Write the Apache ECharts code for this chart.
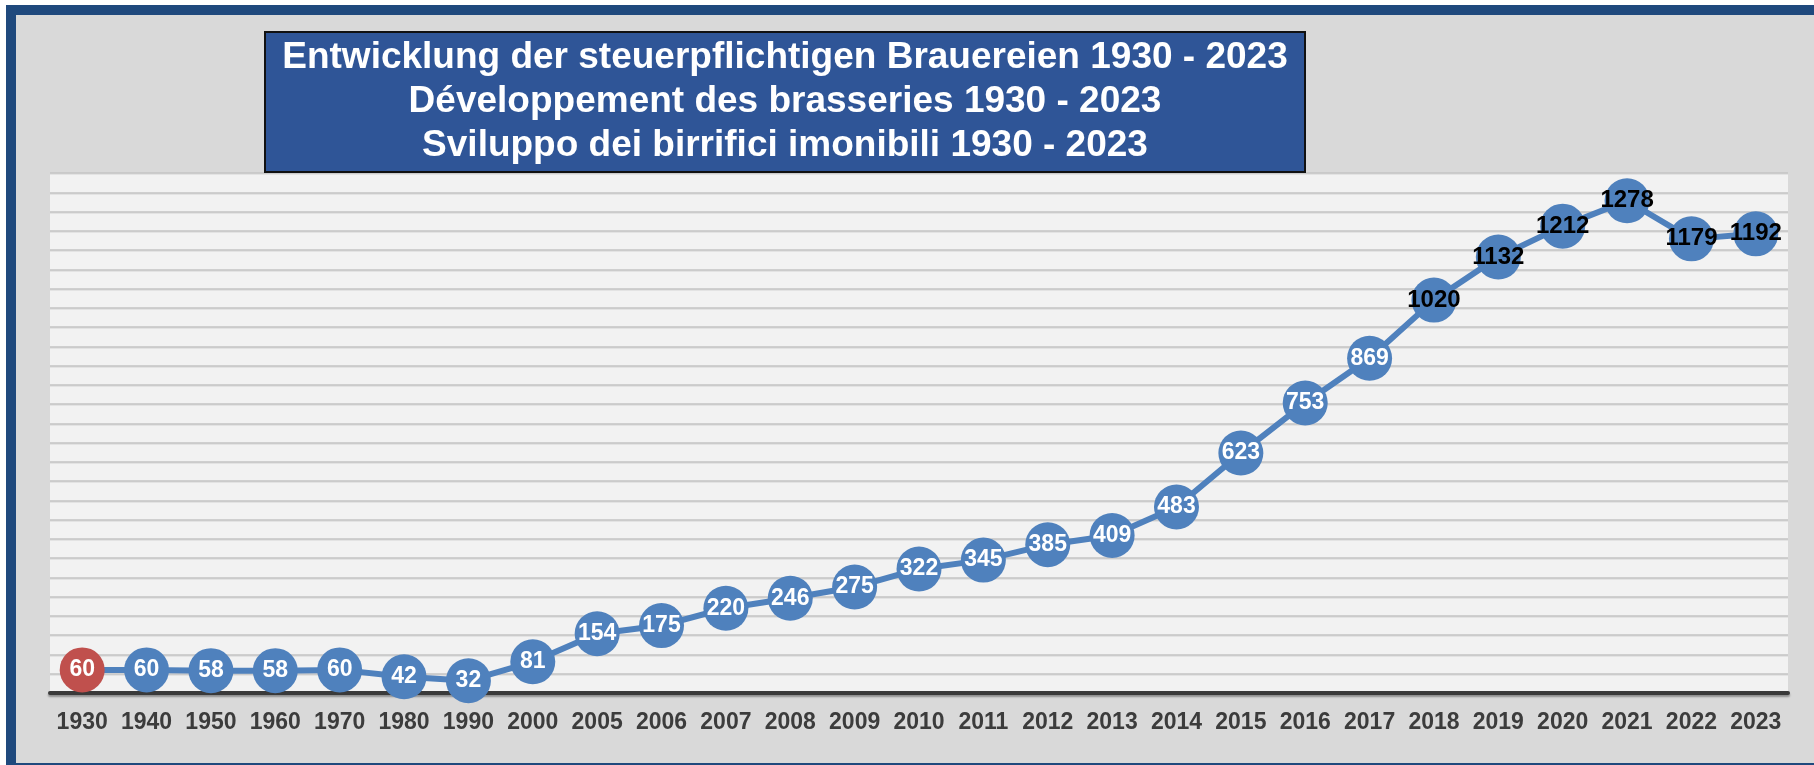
<!DOCTYPE html>
<html>
<head>
<meta charset="utf-8">
<title>Brauereien 1930 - 2023</title>
<script src="https://cdn.jsdelivr.net/npm/echarts@6/dist/echarts.min.js"></script>
<style>
    html, body { margin: 0; padding: 0; background: #ffffff; }
    #Line { width: 1814px; height: 765px; }
</style>
</head>
<body>
<div id="Line"></div>
<script>
// Jahre / années / anni
var years = ['1930', '1940', '1950', '1960', '1970', '1980', '1990', '2000',
    '2005', '2006', '2007', '2008', '2009', '2010', '2011', '2012', '2013',
    '2014', '2015', '2016', '2017', '2018', '2019', '2020', '2021', '2022', '2023'];
// Anzahl steuerpflichtige Brauereien
var breweries = [60, 60, 58, 58, 60, 42, 32, 81,
    154, 175, 220, 246, 275, 322, 345, 385, 409,
    483, 623, 753, 869, 1020, 1132, 1212, 1278, 1179, 1192];
var titleLines = [
    'Entwicklung der steuerpflichtigen Brauereien 1930 - 2023',
    'Développement des brasseries 1930 - 2023',
    'Sviluppo dei birrifici imonibili 1930 - 2023'
];

var FONT = '"Liberation Sans", Arial, sans-serif';

function LineChart(name, value) {
    var myChart = echarts.init(document.getElementById('Line'));

    // Punkte: erster rot, ab 1000 schwarze Beschriftung
    var points = [];
    for (var i = 0; i < value.length; i++) {
        points.push({
            value: value[i],
            itemStyle: { color: i === 0 ? '#c0504d' : '#4f81bd' },
            label: {
                color: value[i] >= 1000 ? '#000000' : '#ffffff',
                fontSize: value[i] >= 1000 ? 24 : 23
            }
        });
    }

    var option = {
        animation: false,
        graphic: [
            {   // Rahmen
                type: 'rect', z: -10, silent: true,
                shape: { x: 11, y: 10, width: 1830, height: 758 },
                style: { fill: '#d9d9d9', stroke: '#1f497d', lineWidth: 10 }
            },
            {   // Titelbox
                type: 'rect', z: 10, silent: true,
                shape: { x: 265, y: 32, width: 1040, height: 140 },
                style: { fill: '#2f5597', stroke: '#111111', lineWidth: 2 }
            },
            {
                type: 'text', z: 11, silent: true,
                x: 785, y: 102,
                style: {
                    text: titleLines.join('\n'),
                    fill: '#ffffff',
                    font: 'bold 37px ' + FONT,
                    lineHeight: 44,
                    align: 'center',
                    verticalAlign: 'middle'
                }
            }
        ],
        grid: {
            left: 50, right: 26, top: 173, bottom: 72,
            show: true, backgroundColor: '#f2f2f2', borderWidth: 0
        },
        xAxis: {
            type: 'category',
            data: name,
            boundaryGap: true,
            axisTick: { show: false },
            axisLine: {
                lineStyle: { color: '#3a3a3a', width: 4, shadowColor: 'rgba(0,0,0,0.35)', shadowOffsetY: 2, shadowBlur: 2 }
            },
            axisLabel: {
                interval: 0,
                margin: 18,
                color: '#3c3c3c',
                fontSize: 23,
                fontWeight: 'bold',
                fontFamily: FONT
            }
        },
        yAxis: {
            type: 'value',
            min: 0, max: 1350, interval: 50,
            axisLabel: { show: false },
            axisLine: { show: false },
            axisTick: { show: false },
            splitLine: {
                lineStyle: { color: '#c3c3c3', width: 1.5, shadowColor: 'rgba(0,0,0,0.08)', shadowOffsetY: 1 }
            }
        },
        series: [{
            name: 'Brauereien',
            type: 'line',
            data: points,
            symbol: 'circle',
            symbolSize: 45,
            showAllSymbol: true,
            lineStyle: { color: '#4f81bd', width: 6 },
            label: {
                show: true,
                position: 'inside',
                fontWeight: 'bold',
                fontFamily: FONT
            },
            labelLayout: { hideOverlap: false },
            z: 5
        }]
    };
    myChart.setOption(option);
}

LineChart(years, breweries);
</script>
</body>
</html>
